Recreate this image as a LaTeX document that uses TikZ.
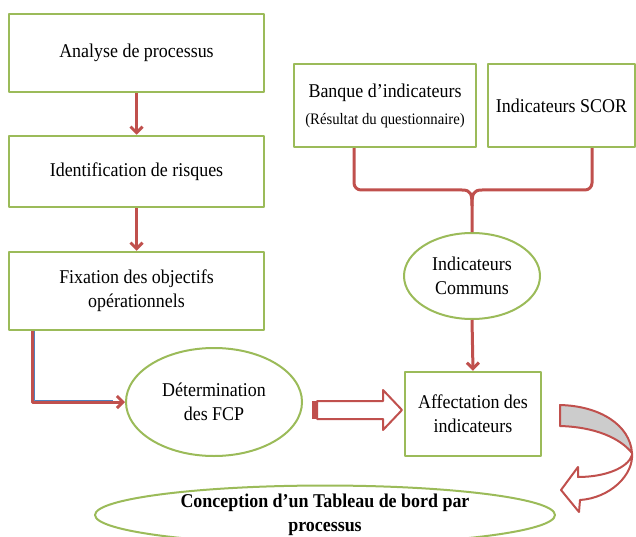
\documentclass[tikz,border=0pt]{standalone}
\usepackage{fontspec}
\setmainfont{Liberation Serif}[FakeStretch=0.92]
\usetikzlibrary{arrows.meta,shapes.geometric}
\definecolor{boxgreen}{RGB}{155,187,89}
\definecolor{linkred}{RGB}{192,80,77}
\definecolor{linkblue}{RGB}{79,129,189}
\definecolor{ribbongray}{RGB}{204,204,204}
\begin{document}
\begin{tikzpicture}[x=1pt,y=-1pt,line join=round,
    font=\fontsize{19.5}{24}\selectfont,
    >={Straight Barb[length=6pt,width=12pt]},
    stepbox/.style={draw=boxgreen,line width=2.5pt,fill=white,align=center,inner sep=0pt},
    oval/.style={ellipse,draw=boxgreen,line width=2pt,align=center,inner sep=0pt},
    link/.style={draw=linkred,line width=3pt},
    hollow/.style={draw=linkred,line width=2pt,fill=white}]
    \useasboundingbox (0,0) rectangle (636,537);
    % colonne de gauche
    \node[stepbox,minimum width=255pt,minimum height=78pt] (analyse) at (136.5,53) {Analyse de processus};
    \node[stepbox,minimum width=255pt,minimum height=71pt] (risques) at (136.5,171.5) {Identification de risques};
    \node[stepbox,minimum width=255pt,minimum height=78pt] (objectifs) at (136.5,291) {Fixation des objectifs\\opérationnels};
    \node[oval,minimum width=176pt,minimum height=108pt] (fcp) at (214,402) {Détermination\\des FCP};
    % colonne de droite
    \node[stepbox,minimum width=182pt,minimum height=83pt] (banque) at (385,105.5) {Banque d’indicateurs\\[3pt]{\fontsize{16}{18}\selectfont(Résultat du questionnaire)}};
    \node[stepbox,minimum width=147pt,minimum height=83pt] (scor) at (561.5,105.5) {Indicateurs SCOR};
    \node[oval,minimum width=136pt,minimum height=86pt] (communs) at (472,276) {Indicateurs\\Communs};
    \node[stepbox,minimum width=136pt,minimum height=84pt] (affectation) at (473,414) {Affectation des\\indicateurs};
    \node[oval,minimum width=460pt,minimum height=58pt,font=\fontsize{19.5}{24}\selectfont\bfseries] (conception) at (325,515) {Conception d’un Tableau de bord par\\processus};
    % fleches
    \draw[link,->] (analyse.south) -- (risques.north);
    \draw[link,->] (risques.south) -- (objectifs.north);
    \draw[linkblue,line width=1pt] ([xshift=26.8pt]objectifs.south west) |- ([xshift=-12pt,yshift=1.8pt]fcp.west);
    \draw[link,->] ([xshift=25pt]objectifs.south west) |- (fcp.west);
    \coordinate (fcpout) at (312,410);
    \fill[linkred] (fcpout) ++(0,-9) rectangle ++(5,18);
    \draw[hollow] (fcpout) ++(5,-9) -- ++(66,0) -- ++(0,-11) -- ++(19,20) -- ++(-19,20) -- ++(0,-11) -- ++(-66,0) -- cycle;
    % accolade
    \coordinate (cusp) at (472,190);
    \draw[link,rounded corners=7pt] ([xshift=-31pt]banque.south) |- ([xshift=-10pt]cusp);
    \draw[link,rounded corners=7pt] ([xshift=30.5pt]scor.south) |- ([xshift=10pt]cusp);
    \draw[link] ([xshift=-10pt]cusp) .. controls ([xshift=-1pt]cusp) and ([yshift=-4pt]cusp) .. ([yshift=-16pt]cusp) -- (communs.north);
    \draw[link] ([xshift=10pt]cusp) .. controls ([xshift=1pt]cusp) and ([yshift=-4pt]cusp) .. ([yshift=-16pt]cusp);
    \draw[link,->] (communs.south) -- (affectation.north);
    % fleche courbe
    \filldraw[fill=ribbongray,draw=linkred,line width=2pt] (560,405) .. controls (600,406) and (630,425) .. (632,453)
        .. controls (620,438) and (595,427) .. (560,426) -- cycle;
    \draw[hollow] (632,453) .. controls (634,475) and (610,498) .. (580,500) -- (579,512) -- (561,490) -- (578,467) -- (578,477)
        .. controls (605,477) and (628,468) .. (632,455);
\end{tikzpicture}
\end{document}
